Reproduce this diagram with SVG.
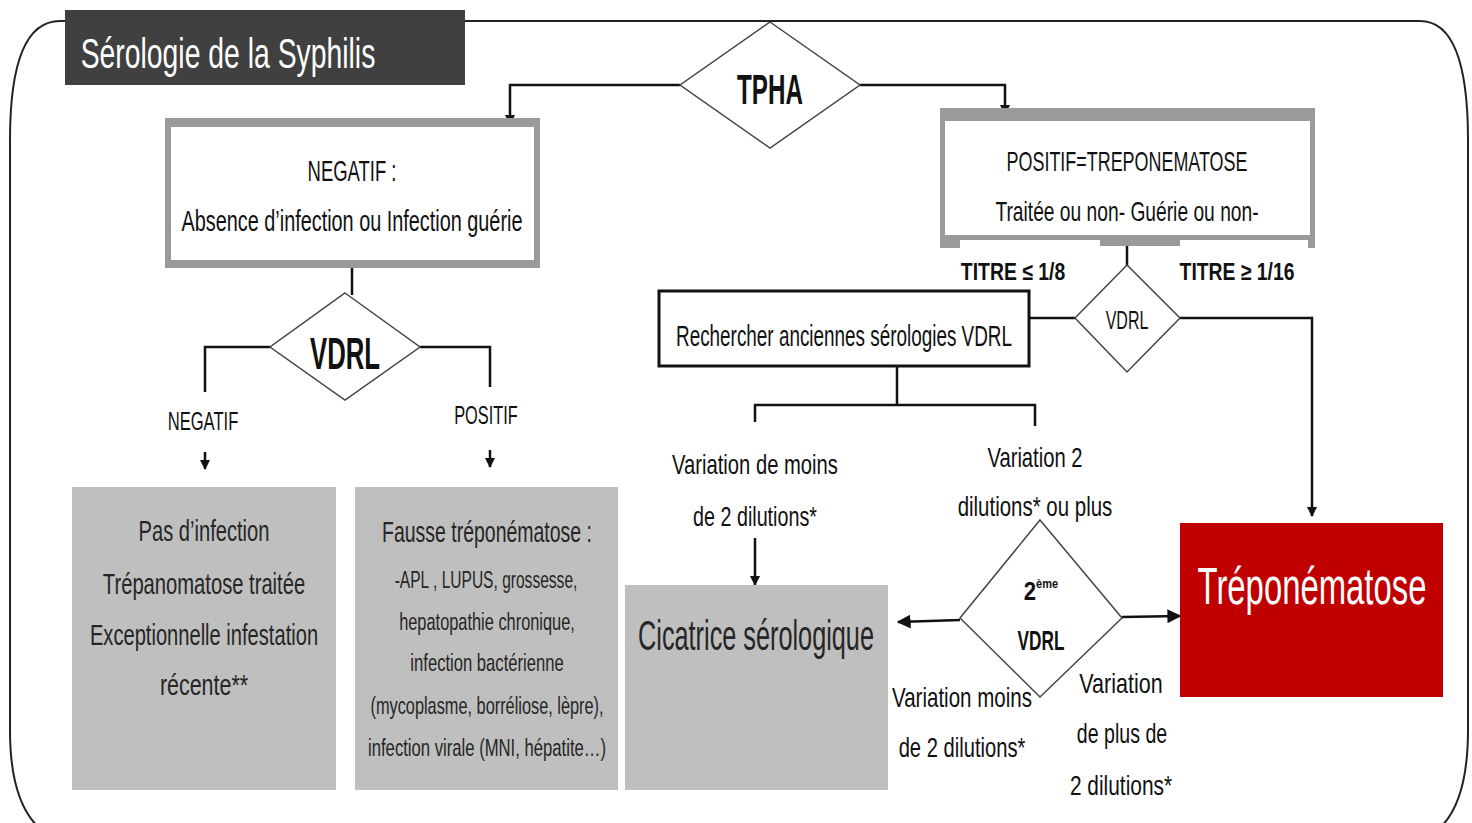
<svg xmlns="http://www.w3.org/2000/svg" width="1472" height="823" viewBox="0 0 1472 823">
<style>
text{font-family:"Liberation Sans",Arial,sans-serif;fill:#111;text-anchor:middle}
.b{font-weight:bold}
.w{fill:#fff}
.g{fill:#262626}
.ln{fill:none;stroke:#111;stroke-width:2.5}
.dia{fill:#fff;stroke:#444;stroke-width:1.5}
.gbox{fill:#bfbfbf}
</style>
<defs>
<marker id="ar" viewBox="0 0 10 10" refX="9" refY="5" markerWidth="10" markerHeight="10" markerUnits="userSpaceOnUse" orient="auto">
<path d="M0,0 L10,5 L0,10 z" fill="#111"/>
</marker>
<marker id="arb" viewBox="0 0 10 10" refX="9" refY="5" markerWidth="14" markerHeight="14" markerUnits="userSpaceOnUse" orient="auto">
<path d="M0,0 L10,5 L0,10 z" fill="#111"/>
</marker>
</defs>
<rect width="1472" height="823" fill="#fff"/>
<g id="frame">
<path d="M60,21 L1420,21 Q1468,21 1468,140 L1468,730 Q1468,823 1420,840 M60,21 Q10,21 10,140 L10,730 Q10,823 60,840" fill="none" stroke="#222" stroke-width="2"/>
</g>
<g id="title">
<rect x="65" y="10" width="400" height="75" fill="#404040"/>
<text transform="translate(228,68) scale(0.7,1)" class="w" font-size="42" textLength="421" lengthAdjust="spacingAndGlyphs">Sérologie de la Syphilis</text>
</g>
<g id="connectors">
<polyline class="ln" points="680,85 510,85 510,124" marker-end="url(#ar)"/>
<polyline class="ln" points="860,85 1005,85 1005,114" marker-end="url(#ar)"/>
<line class="ln" x1="352" y1="268" x2="352" y2="295"/>
<polyline class="ln" points="270,347 205,347 205,392"/>
<polyline class="ln" points="420,347 490,347 490,387"/>
<line class="ln" x1="205" y1="452" x2="205" y2="469" marker-end="url(#ar)"/>
<line class="ln" x1="490" y1="450" x2="490" y2="467" marker-end="url(#ar)"/>
<line class="ln" x1="1127" y1="245" x2="1127" y2="266"/>
<line class="ln" x1="1075" y1="318" x2="1030" y2="318"/>
<polyline class="ln" points="1180,318 1312,318 1312,516" marker-end="url(#ar)"/>
<line class="ln" x1="897" y1="367" x2="897" y2="405"/>
<polyline class="ln" points="755,422 755,405 1035,405 1035,426"/>
<line class="ln" x1="755" y1="538" x2="755" y2="585" marker-end="url(#ar)"/>
<line class="ln" x1="960" y1="620" x2="898" y2="622" stroke-width="3" marker-end="url(#arb)"/>
<line class="ln" x1="1122" y1="617" x2="1180" y2="616" stroke-width="3" marker-end="url(#arb)"/>
</g>
<g id="tpha">
<polygon class="dia" points="770,22 860,85 770,148 680,85"/>
<text transform="translate(770,104) scale(0.7,1)" class="b" font-size="42" textLength="94" lengthAdjust="spacingAndGlyphs">TPHA</text>
</g>
<g id="negatif-box">
<rect x="165" y="118" width="375" height="150" fill="#9a9a9a"/>
<rect x="171" y="127" width="363" height="133" fill="#fff"/>
<text transform="translate(352,181) scale(0.7,1)" font-size="30" textLength="127" lengthAdjust="spacingAndGlyphs">NEGATIF :</text>
<text transform="translate(352,231) scale(0.7,1)" font-size="30" textLength="487" lengthAdjust="spacingAndGlyphs">Absence d’infection ou Infection guérie</text>
</g>
<g id="vdrl1">
<polygon class="dia" points="345,293 420,347 345,400 270,347"/>
<text transform="translate(345,369) scale(0.7,1)" class="b" font-size="44" textLength="100" lengthAdjust="spacingAndGlyphs">VDRL</text>
</g>
<g id="labels-vdrl1">
<text transform="translate(203,430) scale(0.7,1)" font-size="26" textLength="101" lengthAdjust="spacingAndGlyphs">NEGATIF</text>
<text transform="translate(486,424) scale(0.7,1)" font-size="26" textLength="91" lengthAdjust="spacingAndGlyphs">POSITIF</text>
</g>
<g id="pas-infection">
<rect class="gbox" x="72" y="487" width="264" height="303"/>
<text class="g" transform="translate(204,541) scale(0.7,1)" font-size="30" textLength="187" lengthAdjust="spacingAndGlyphs">Pas d’infection</text>
<text class="g" transform="translate(204,594) scale(0.7,1)" font-size="30" textLength="289" lengthAdjust="spacingAndGlyphs">Trépanomatose traitée</text>
<text class="g" transform="translate(204,645) scale(0.7,1)" font-size="30" textLength="326" lengthAdjust="spacingAndGlyphs">Exceptionnelle infestation</text>
<text class="g" transform="translate(204,695) scale(0.7,1)" font-size="30" textLength="126" lengthAdjust="spacingAndGlyphs">récente**</text>
</g>
<g id="fausse">
<rect class="gbox" x="355" y="487" width="263" height="303"/>
<text class="g" transform="translate(487,542) scale(0.7,1)" font-size="29" textLength="300" lengthAdjust="spacingAndGlyphs">Fausse tréponématose :</text>
<text class="g" transform="translate(486,588) scale(0.7,1)" font-size="24" textLength="261" lengthAdjust="spacingAndGlyphs">-APL , LUPUS, grossesse,</text>
<text class="g" transform="translate(487,630) scale(0.7,1)" font-size="24" textLength="251" lengthAdjust="spacingAndGlyphs">hepatopathie chronique,</text>
<text class="g" transform="translate(487,671) scale(0.7,1)" font-size="24" textLength="219" lengthAdjust="spacingAndGlyphs">infection bactérienne</text>
<text class="g" transform="translate(487,714) scale(0.7,1)" font-size="24" textLength="333" lengthAdjust="spacingAndGlyphs">(mycoplasme, borréliose, lèpre),</text>
<text class="g" transform="translate(487,756) scale(0.7,1)" font-size="24" textLength="340" lengthAdjust="spacingAndGlyphs">infection virale (MNI, hépatite…)</text>
</g>
<g id="cicatrice">
<rect class="gbox" x="625" y="585" width="263" height="205"/>
<text class="g" transform="translate(756,650) scale(0.7,1)" font-size="42" textLength="337" lengthAdjust="spacingAndGlyphs">Cicatrice sérologique</text>
</g>
<g id="positif-box">
<rect x="940" y="108" width="375" height="132" fill="#9a9a9a"/>
<rect x="945" y="121" width="365" height="114" fill="#fff"/>
<rect x="940" y="240" width="20" height="8" fill="#9a9a9a"/>
<rect x="1100" y="240" width="80" height="6" fill="#9a9a9a"/>
<rect x="1308" y="240" width="7" height="8" fill="#9a9a9a"/>
<text transform="translate(1127,171) scale(0.7,1)" font-size="28" textLength="344" lengthAdjust="spacingAndGlyphs">POSITIF=TREPONEMATOSE</text>
<text transform="translate(1127,221) scale(0.7,1)" font-size="28" textLength="376" lengthAdjust="spacingAndGlyphs">Traitée ou non- Guérie ou non-</text>
</g>
<g id="titre-labels">
<text transform="translate(1013,280) scale(0.7,1)" class="b" font-size="24" textLength="149" lengthAdjust="spacingAndGlyphs">TITRE ≤ 1/8</text>
<text transform="translate(1237,280) scale(0.7,1)" class="b" font-size="24" textLength="164" lengthAdjust="spacingAndGlyphs">TITRE ≥ 1/16</text>
</g>
<g id="vdrl2">
<polygon class="dia" points="1127,265 1180,318 1127,372 1075,318"/>
<text transform="translate(1127,329) scale(0.7,1)" font-size="26" textLength="61" lengthAdjust="spacingAndGlyphs">VDRL</text>
</g>
<g id="rechercher">
<rect x="659" y="291" width="370" height="75" fill="#fff" stroke="#111" stroke-width="3"/>
<text transform="translate(844,346) scale(0.7,1)" font-size="30" textLength="480" lengthAdjust="spacingAndGlyphs">Rechercher anciennes sérologies VDRL</text>
</g>
<g id="labels-rechercher">
<text transform="translate(755,474) scale(0.7,1)" font-size="28" textLength="237" lengthAdjust="spacingAndGlyphs">Variation de moins</text>
<text transform="translate(755,526) scale(0.7,1)" font-size="28" textLength="177" lengthAdjust="spacingAndGlyphs">de 2 dilutions*</text>
<text transform="translate(1035,467) scale(0.7,1)" font-size="28" textLength="136" lengthAdjust="spacingAndGlyphs">Variation 2</text>
<text transform="translate(1035,516) scale(0.7,1)" font-size="28" textLength="221" lengthAdjust="spacingAndGlyphs">dilutions* ou plus</text>
</g>
<g id="vdrl3">
<polygon class="dia" points="1040,520 1122,618 1040,697 960,618"/>
<text transform="translate(1041,600) scale(0.85,1)" class="b" font-size="26">2<tspan font-size="13" dy="-12">ème</tspan></text>
<text transform="translate(1041,650) scale(0.7,1)" class="b" font-size="28" textLength="67" lengthAdjust="spacingAndGlyphs">VDRL</text>
</g>
<g id="treponematose">
<rect x="1180" y="523" width="263" height="174" fill="#c00000"/>
<text transform="translate(1312,604) scale(0.7,1)" class="w" font-size="52" textLength="327" lengthAdjust="spacingAndGlyphs">Tréponématose</text>
</g>
<g id="labels-vdrl3">
<text transform="translate(962,707) scale(0.7,1)" font-size="28" textLength="200" lengthAdjust="spacingAndGlyphs">Variation moins</text>
<text transform="translate(962,757) scale(0.7,1)" font-size="28" textLength="181" lengthAdjust="spacingAndGlyphs">de 2 dilutions*</text>
<text transform="translate(1121,693) scale(0.7,1)" font-size="28" textLength="119" lengthAdjust="spacingAndGlyphs">Variation</text>
<text transform="translate(1122,743) scale(0.7,1)" font-size="28" textLength="129" lengthAdjust="spacingAndGlyphs">de plus de</text>
<text transform="translate(1121,795) scale(0.7,1)" font-size="28" textLength="146" lengthAdjust="spacingAndGlyphs">2 dilutions*</text>
</g>
</svg>
